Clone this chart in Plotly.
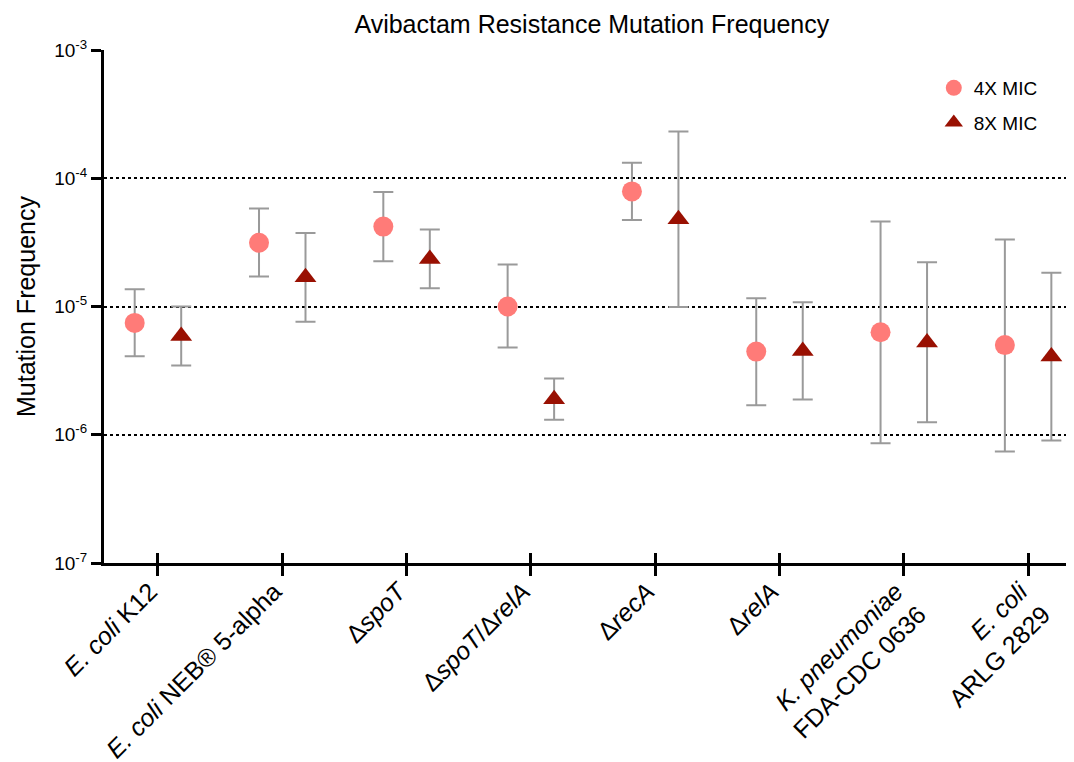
import numpy as np
import plotly.graph_objects as go

# ---- data ----
categories = [
    "<i>E. coli</i> K12",
    "<i>E. coli</i> NEB® 5-alpha",
    "Δ<i>spoT</i>",
    "Δ<i>spoT</i>/Δ<i>relA</i>",
    "Δ<i>recA</i>",
    "Δ<i>relA</i>",
    "<i>K. pneumoniae</i><br>FDA-CDC 0636",
    "<i>E. coli</i><br>ARLG 2829",
]
mean_4x = [7.45e-6, 3.14e-5, 4.20e-5, 1.00e-5, 7.90e-5, 4.45e-6, 6.30e-6, 5.00e-6]
upper_4x = [1.36e-5, 5.80e-5, 7.80e-5, 2.13e-5, 1.32e-4, 1.16e-5, 4.60e-5, 3.33e-5]
lower_4x = [4.10e-6, 1.71e-5, 2.25e-5, 4.80e-6, 4.73e-5, 1.70e-6, 8.60e-7, 7.40e-7]
mean_8x = [5.90e-6, 1.69e-5, 2.35e-5, 1.89e-6, 4.80e-5, 4.50e-6, 5.25e-6, 4.07e-6]
upper_8x = [1.00e-5, 3.75e-5, 3.99e-5, 2.74e-6, 2.32e-4, 1.08e-5, 2.21e-5, 1.83e-5]
lower_8x = [3.47e-6, 7.60e-6, 1.39e-5, 1.31e-6, 9.90e-6, 1.88e-6, 1.25e-6, 9.00e-7]
series_names = ["4X MIC", "8X MIC"]
y_tick_vals = [1e-7, 1e-6, 1e-5, 1e-4, 1e-3]
y_tick_exps = ["-7", "-6", "-5", "-4", "-3"]
grid_vals = [1e-6, 1e-5, 1e-4]

FONT = "Liberation Sans, Arial, sans-serif"
idx = np.arange(len(categories))
offset = 0.187
err_color = "#9a9a9a"
y_tick_text = ["10<sup>%s</sup>" % e for e in y_tick_exps]


def errbar(mean, upper, lower):
    m = np.array(mean)
    return dict(type="data", symmetric=False,
                array=np.array(upper) - m, arrayminus=m - np.array(lower),
                color=err_color, thickness=2, width=10)


fig = go.Figure()
# invisible helper on the overlay axes (dotted grid + upper half of x ticks)
fig.add_trace(go.Scatter(
    x=idx, y=mean_4x, xaxis="x2", yaxis="y2", mode="markers", showlegend=False,
    hoverinfo="skip", marker=dict(opacity=0, size=1),
))
fig.add_trace(go.Scatter(
    x=idx - offset, y=mean_4x, mode="markers", name=series_names[0],
    legendgroup="a",
    marker=dict(symbol="circle", size=20, color="#FF7B78"),
    error_y=errbar(mean_4x, upper_4x, lower_4x),
))
fig.add_trace(go.Scatter(
    x=idx + offset, y=mean_8x, mode="markers", name=series_names[1],
    legendgroup="b",
    marker=dict(symbol="triangle-up", size=19, color="#991002"),
    error_y=errbar(mean_8x, upper_8x, lower_8x),
))

xrange = [-0.434, 7.337]
yrange = [-7, -3]
fig.update_layout(
    width=1074, height=762,
    margin=dict(l=96, r=12, t=42, b=207),
    plot_bgcolor="white", paper_bgcolor="white",
    font=dict(family=FONT, color="black"),
    title=dict(text="Avibactam Resistance Mutation Frequency",
               x=0.505, xref="paper", xanchor="center",
               y=1 - 16 / 762, yanchor="middle",
               font=dict(size=25, family=FONT, color="black")),
    xaxis=dict(range=xrange, tickvals=list(idx), ticktext=categories,
               tickangle=-45, tickfont=dict(size=25, family=FONT),
               ticklabelstandoff=-9, ticklabelshift=-8,
               showline=True, linecolor="black", linewidth=3,
               ticks="outside", ticklen=10, tickwidth=3, tickcolor="black",
               showgrid=False, zeroline=False, automargin=False),
    xaxis2=dict(range=xrange, overlaying="x", anchor="y2", side="bottom",
                tickvals=list(idx), ticks="inside", ticklen=10, tickwidth=3,
                tickcolor="black", showticklabels=False, showline=False,
                showgrid=False, zeroline=False, automargin=False),
    yaxis=dict(type="log", range=yrange, tickvals=y_tick_vals, ticktext=y_tick_text,
               tickfont=dict(size=19, family=FONT),
               showline=True, linecolor="black", linewidth=3,
               ticks="outside", ticklen=10, tickwidth=3, tickcolor="black",
               showgrid=False, zeroline=False, automargin=False,
               title=dict(text="Mutation Frequency", font=dict(size=25, family=FONT),
                          standoff=12)),
    yaxis2=dict(type="log", range=yrange, overlaying="y", anchor="x2", side="left",
                tickvals=grid_vals, showticklabels=False, ticks="",
                showgrid=True, gridcolor="black", gridwidth=1.6, griddash="dot",
                showline=False, zeroline=False, automargin=False),
    legend=dict(x=0.859, y=0.963, xanchor="left", yanchor="top",
                font=dict(size=19, family=FONT), bgcolor="rgba(0,0,0,0)",
                traceorder="grouped", tracegroupgap=7, itemwidth=30),
)

fig.write_html("out.html")
